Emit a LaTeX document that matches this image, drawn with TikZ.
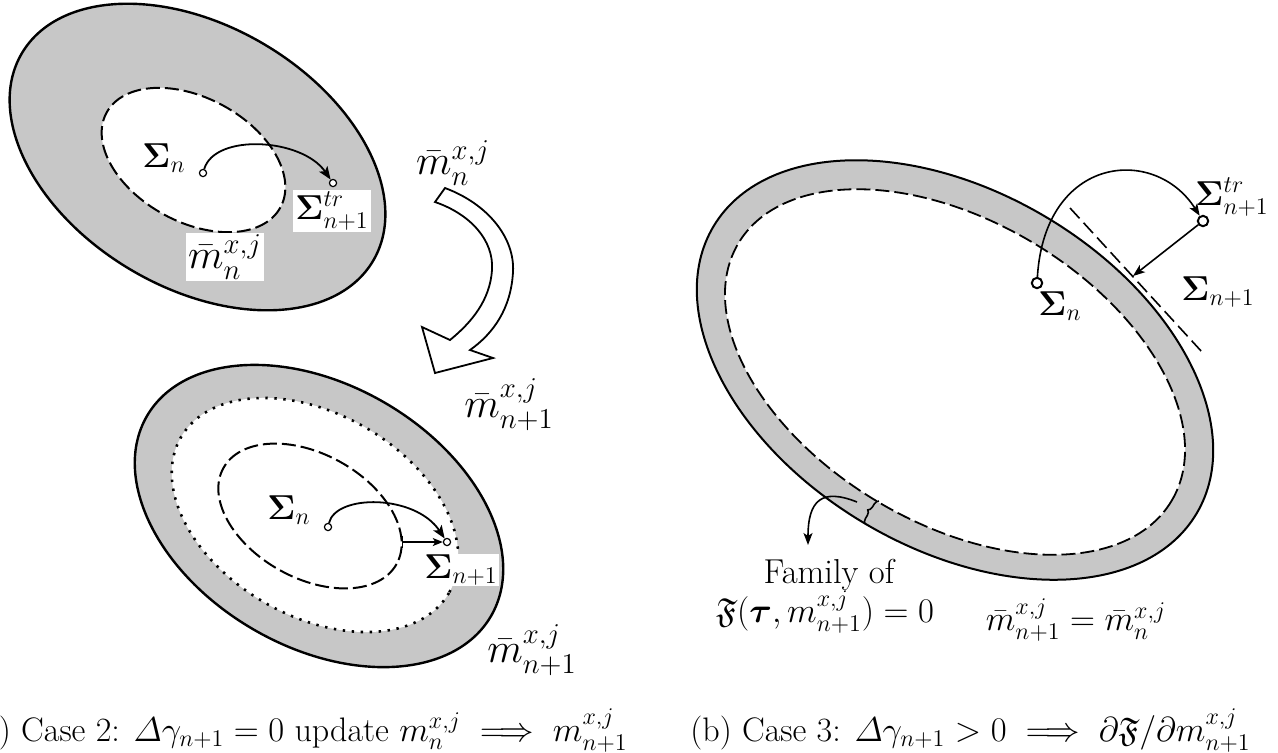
\documentclass[tikz,border=0pt]{standalone}
\usepackage{amsmath,amssymb}
\usetikzlibrary{arrows.meta,decorations.pathreplacing}
\definecolor{ringgray}{RGB}{199,199,199}
\begin{document}
\begin{tikzpicture}[x=0.5pt,y=-0.5pt,
  lbl/.style={font=\fontsize{17.3}{20}\selectfont, inner sep=1pt},
  albl/.style={font=\fontsize{18.5}{21}\selectfont, inner sep=1pt},
  mlbl/.style={font=\fontsize{20.5}{23}\selectfont, inner sep=1pt},
  wlbl/.style={fill=white, inner sep=1pt},
  captxt/.style={font=\fontsize{17}{20}\selectfont, inner sep=0pt},
  pt/.style={circle, draw, fill=white, line width=0.6pt, inner sep=0pt, minimum size=3.6pt},
  bigpt/.style={circle, draw, fill=white, line width=1pt, inner sep=0pt, minimum size=5.2pt},
  ring/.style={draw, fill=ringgray, line width=1.2pt},
  dashring/.style={draw, fill=white, line width=1pt, dash pattern=on 7pt off 2.5pt},
  dotring/.style={draw, fill=white, line width=1.3pt, dash pattern=on 1.2pt off 3.3pt},
  conn/.style={line width=0.9pt, -{Stealth[length=6.5pt,width=5pt,inset=1.5pt]}},
  thinconn/.style={line width=0.8pt, -{Stealth[length=6pt,width=4.5pt,inset=1.5pt]}}
]
\useasboundingbox (0,0) rectangle (1278,752);

% ---------- (a) upper ellipse ----------
\path[ring, rotate around={-30.6:(197.5,157)}] (197.5,157) ellipse [x radius=204, y radius=131];
\path[dashring, rotate around={-28.6:(193.5,160)}] (193.5,160) ellipse [x radius=99, y radius=62];
\node[pt] (ua) at (203,173) {};
\node[pt] (ub) at (333,183) {};
\draw[conn] (ua) .. controls (215,133) and (302,138) .. (ub);
\node[albl] (uSn) at (164,158) {$\mathbf{\Sigma}_n$};
\node[albl, wlbl] (uStr) at (332,211) {$\mathbf{\Sigma}^{tr}_{n+1}$};
\node[mlbl, wlbl] (umn) at (225,257) {$\bar m^{x,j}_n$};

% ---------- hollow curved arrow ----------
\draw[line width=0.9pt, fill=white, line join=miter]
  (445,188) .. controls (488,204) and (515,238) .. (513,272)
  .. controls (511,308) and (494,333) .. (470,350)
  -- (493,358) -- (435,373) -- (422,327) -- (450,340)
  .. controls (472,322) and (490,300) .. (492,270)
  .. controls (494,240) and (470,214) .. (435,202) -- cycle;
\node[mlbl] (amn) at (453,163) {$\bar m^{x,j}_n$};
\node[mlbl] (amn1) at (509,405) {$\bar m^{x,j}_{n+1}$};

% ---------- (a) lower ellipse ----------
\path[ring, rotate around={-30.2:(319,516)}] (319,516) ellipse [x radius=199, y radius=131];
\path[dotring, rotate around={-30.2:(315,515)}] (315,515) ellipse [x radius=155, y radius=101];
\draw[line width=1pt, dash pattern=on 7pt off 2.5pt, rotate around={-29:(310,516)}] (310,516) ellipse [x radius=99, y radius=62];
\node[pt] (la) at (328,527) {};
\node[pt] (lb) at (447,542) {};
\coordinate (lc) at (402,542);
\draw[conn] (la) .. controls (336,494) and (415,494) .. (lb);
\draw[line width=0.7pt, {Bar[width=6pt]}-{Stealth[length=5pt,width=4pt,inset=1.2pt]}] (lc) -- (lb);
\node[albl] (lSn) at (289,510) {$\mathbf{\Sigma}_n$};
\node[albl, wlbl, inner sep=0.5pt] (lSn1) at (461,570) {$\mathbf{\Sigma}_{n+1}$};
\node[mlbl] (lmn1) at (532,650) {$\bar m^{x,j}_{n+1}$};

% ---------- (b) right ellipse ----------
\path[draw, fill=ringgray, line width=1pt, rotate around={-30.7:(955,370)}] (955,370) ellipse [x radius=281, y radius=178];
\path[draw, fill=white, line width=0.9pt, dash pattern=on 7pt off 2.5pt, rotate around={-30.7:(955,372)}] (955,372) ellipse [x radius=252, y radius=151];
\draw[line width=0.8pt, dash pattern=on 7pt off 3pt] (1070,208) -- (1202,352);
\node[bigpt] (ra) at (1037,283) {};
\node[bigpt] (rb) at (1203,221) {};
\coordinate (rt) at (1133,276);
\draw[thinconn] (ra) .. controls (1045,155) and (1155,145) .. (rb);
\draw[thinconn] (rb) -- (rt);
\node[lbl] (rSn) at (1060,306) {$\mathbf{\Sigma}_n$};
\node[lbl] (rStr) at (1232,197) {$\mathbf{\Sigma}^{tr}_{n+1}$};
\node[lbl] (rSn1) at (1218,292) {$\mathbf{\Sigma}_{n+1}$};

% brace and family arrow
\coordinate (bra) at (865,524);
\coordinate (brb) at (879,501);
\draw[line width=0.8pt, decorate, decoration={brace, amplitude=2.5pt}] (bra) -- (brb);
\coordinate (fs) at (857,502);
\coordinate (fe) at (808,545);
\draw[thinconn] (fs) .. controls (822,488) and (808,500) .. (fe);
\node[lbl] (fam1) at (829,575) {Family of};
\node[lbl] (fam2) at (825,612) {$\mathfrak{F}(\boldsymbol{\tau}, m^{x,j}_{n+1}) = 0$};
\node[lbl] (req) at (1076,620) {$\bar m^{x,j}_{n+1} = \bar m^{x,j}_n$};

% ---------- captions ----------
\node[captxt, anchor=base east] (capa) at (628,741) {(a) Case 2: $\varDelta\gamma_{n+1}=0$ update $m^{x,j}_n \implies m^{x,j}_{n+1}$};
\node[captxt, anchor=base west] (capb) at (690,741) {(b) Case 3: $\varDelta\gamma_{n+1}>0 \implies \partial\mathfrak{F}/\partial m^{x,j}_{n+1}$};
\end{tikzpicture}
\end{document}
